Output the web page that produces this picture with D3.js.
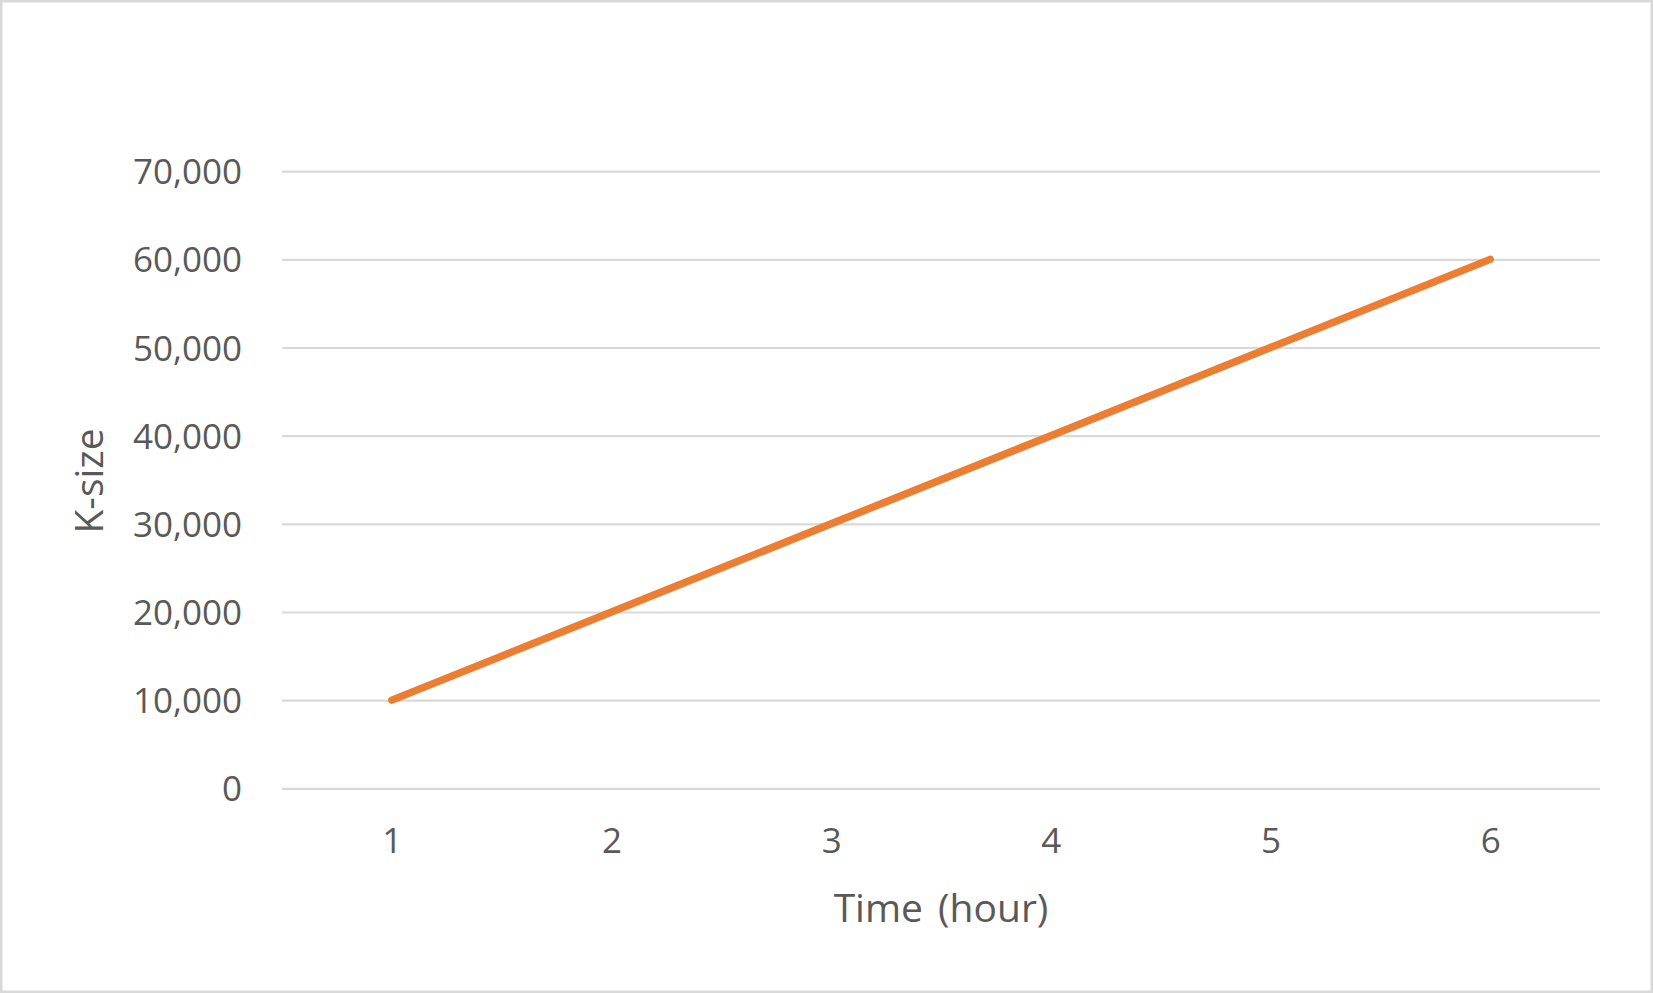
<!DOCTYPE html>
<html>
<head>
<meta charset="utf-8">
<script src="https://cdn.jsdelivr.net/npm/d3@7"></script>
<style>
    body { margin: 0; background: #fff; }
    .axis text { font-family: "Open Sans", sans-serif; fill: #595959; }
</style>
</head>
<body>
<div id="chart"></div>
<script>
// values
const hours = [1, 2, 3, 4, 5, 6];
const kSize = [10000, 20000, 30000, 40000, 50000, 60000];
const yTicks = [0, 10000, 20000, 30000, 40000, 50000, 60000, 70000];

const pageWidth = 1653;
const pageHeight = 993;
const plotLeft = 282, plotRight = 1600;
const plotTop = 171.2, plotBottom = 788.3;

const svg = d3.select("#chart")
    .append("svg")
    .attr("width", pageWidth)
    .attr("height", pageHeight);

// outer frame
svg.append("rect")
    .attr("x", 1.25).attr("y", 1.25)
    .attr("width", pageWidth - 2.5).attr("height", pageHeight - 2.5)
    .attr("fill", "#fff")
    .attr("stroke", "#d9d9d9")
    .attr("stroke-width", 2.5);

var x = d3.scalePoint()
    .domain(hours)
    .range([plotLeft, plotRight])
    .padding(0.5);

var y = d3.scaleLinear()
    .domain([0, 70000])
    .range([plotBottom, plotTop]);

// gridlines + y labels
var yAxis = svg.append("g")
    .attr("class", "axis y-axis")
    .attr("transform", "translate(" + plotLeft + ",0)")
    .call(d3.axisLeft(y).tickValues(yTicks)
        .tickSize(-(plotRight - plotLeft))
        .tickPadding(40)
        .tickFormat(d3.format(",")));
yAxis.select(".domain").remove();
yAxis.selectAll("line").attr("stroke", "#d9d9d9").attr("stroke-width", 2.2);
yAxis.selectAll("text")
    .attr("font-size", 35)
    .attr("dy", null)
    .attr("y", 12.5);

// x labels, no ticks or axis line
var xAxis = svg.append("g")
    .attr("class", "axis x-axis")
    .attr("transform", "translate(0," + plotBottom + ")")
    .call(d3.axisBottom(x).tickSize(0).tickPadding(0));
xAxis.select(".domain").remove();
xAxis.selectAll("text")
    .attr("font-size", 35)
    .attr("dy", null)
    .attr("y", 65);

// series line
var line = d3.line()
    .x((d, i) => x(hours[i]))
    .y(d => y(d));

svg.append("path")
    .datum(kSize)
    .attr("d", line)
    .attr("fill", "none")
    .attr("stroke", "#ed7d31")
    .attr("stroke-width", 7.5)
    .attr("stroke-linecap", "round")
    .attr("stroke-linejoin", "round");

// axis titles
svg.append("text")
    .attr("class", "axis-label")
    .attr("x", 941)
    .attr("y", 922)
    .attr("text-anchor", "middle")
    .attr("font-family", "Open Sans, sans-serif")
    .attr("font-size", 39)
    .attr("word-spacing", 5)
    .attr("fill", "#595959")
    .text("Time (hour)");

svg.append("text")
    .attr("class", "axis-label")
    .attr("transform", "translate(103,481) rotate(-90)")
    .attr("text-anchor", "middle")
    .attr("font-family", "Open Sans, sans-serif")
    .attr("font-size", 39)
    .attr("fill", "#595959")
    .text("K-size");
</script>
</body>
</html>
